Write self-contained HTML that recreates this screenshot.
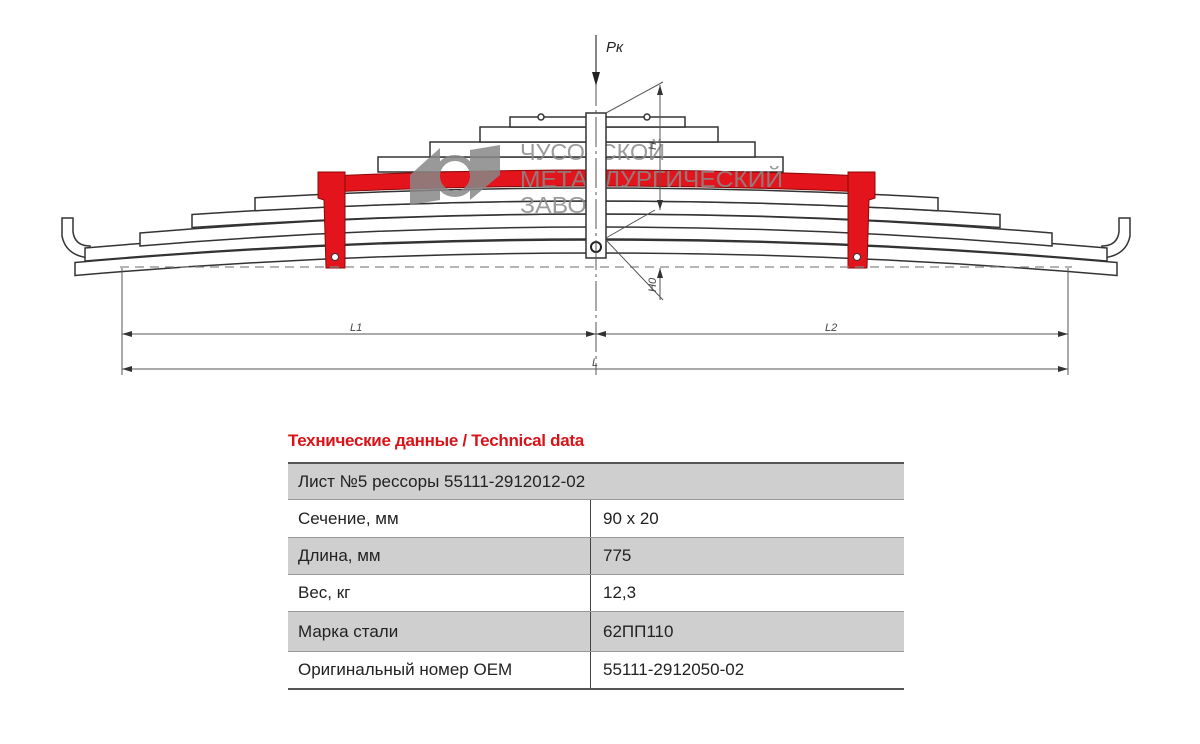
<!DOCTYPE html>
<html><head><meta charset="utf-8"><style>
body{margin:0;background:#fff;width:1200px;height:744px;overflow:hidden;font-family:"Liberation Sans",sans-serif;}
.t{position:absolute;}
</style></head><body>
<svg width="1200" height="744" style="position:absolute;left:0;top:0" xmlns="http://www.w3.org/2000/svg">
<g fill="#fff" stroke="#333" stroke-width="1.5">
<path d="M62,218 L73,218 L73,232 Q75,246 90,246 L90,258 Q66,256 62,236 Z"/>
<path d="M1130,218 L1119,218 L1119,232 Q1117,246 1102,246 L1102,258 Q1126,256 1130,236 Z"/>
<path d="M75,262.5 Q596,217.5 1117,262.5 L1117,275.5 Q596,230.5 75,275.5 Z"/>
<path d="M85,248 Q596,204 1107,248 L1107,261 Q596,217 85,261 Z"/>
<path d="M140,233 Q596,195 1052,233 L1052,246 Q596,208 140,246 Z"/>
<path d="M192,214.5 Q596,187.5 1000,214.5 L1000,227.5 Q596,200.5 192,227.5 Z"/>
<path d="M255,197.7 Q596,178.3 938,197.7 L938,210.7 Q596,191.3 255,210.7 Z"/>
<rect x="378" y="157" width="405" height="15"/>
<rect x="430" y="142" width="325" height="15"/>
<rect x="480" y="127" width="238" height="15"/>
<rect x="510" y="117" width="175" height="10"/>
<circle cx="541" cy="117" r="3"/><circle cx="647" cy="117" r="3"/>
</g>
<path d="M330,175.9 Q596,164.1 862,175.9 L862,191.9 Q596,180.1 330,191.9 Z" fill="#e3141b" stroke="#8a0a0a" stroke-width="1"/>
<g fill="#e3141b" stroke="#8a0a0a" stroke-width="1">
<path d="M318,172 L345,172 L345,268 L326,268 L324,200 L318,198 Z"/>
<path d="M875,172 L848,172 L848,268 L867,268 L869,200 L875,198 Z"/>
</g>
<circle cx="335" cy="257" r="3.5" fill="#fff" stroke="#333"/>
<circle cx="857" cy="257" r="3.5" fill="#fff" stroke="#333"/>
<g fill="#888" opacity="0.85">
<polygon points="410,175 440,148 440,200 410,205"/>
<polygon points="470,150 500,145 500,175 470,200"/>
<circle cx="455" cy="176" r="18" fill="none" stroke="#888" stroke-width="6"/>
</g>
<g font-family="Liberation Sans,sans-serif" font-size="23" fill="#8a8a8a" opacity="0.85">
<text x="520" y="160" textLength="145" lengthAdjust="spacingAndGlyphs">ЧУСОВСКОЙ</text>
<text x="520" y="187" textLength="263" lengthAdjust="spacingAndGlyphs">МЕТАЛЛУРГИЧЕСКИЙ</text>
<text x="520" y="213" textLength="83" lengthAdjust="spacingAndGlyphs">ЗАВОД</text>
</g>
<rect x="586" y="113" width="20" height="145" fill="#fff" stroke="#333" stroke-width="1.5"/>
<circle cx="596" cy="247" r="5" fill="#fff" stroke="#222" stroke-width="2"/>
<line x1="596" y1="35" x2="596" y2="375" stroke="#555" stroke-width="1" stroke-dasharray="30,4,3,4"/>
<line x1="596" y1="35" x2="596" y2="80" stroke="#333" stroke-width="1.2"/>
<polygon points="592,72 600,72 596,86" fill="#222"/>
<text x="606" y="52" font-family="Liberation Sans,sans-serif" font-style="italic" font-size="15" fill="#222">Pк</text>
<line x1="120" y1="267" x2="1072" y2="267" stroke="#888" stroke-width="1.3" stroke-dasharray="9,6"/>
<g stroke="#555" stroke-width="1" fill="none">
<line x1="606" y1="113" x2="663" y2="82"/>
<line x1="606" y1="238" x2="655" y2="210"/>
<line x1="660" y1="85" x2="660" y2="210"/>
<line x1="606" y1="240" x2="663" y2="300"/>
<line x1="660" y1="268" x2="660" y2="300"/>
<line x1="122" y1="268" x2="122" y2="375"/>
<line x1="1068" y1="268" x2="1068" y2="375"/>
<line x1="122" y1="334" x2="1068" y2="334"/>
<line x1="122" y1="369" x2="1068" y2="369"/>
</g>
<g fill="#333">
<polygon points="657,95 663,95 660,85"/><polygon points="657,200 663,200 660,210"/>
<polygon points="657,278 663,278 660,268"/>
<polygon points="122,334 132,331 132,337"/><polygon points="596,334 586,331 586,337"/>
<polygon points="596,334 606,331 606,337"/><polygon points="1068,334 1058,331 1058,337"/>
<polygon points="122,369 132,366 132,372"/><polygon points="1068,369 1058,366 1058,372"/>
</g>
<g font-family="Liberation Sans,sans-serif" font-style="italic" font-size="11" fill="#444">
<text x="350" y="331">L1</text><text x="825" y="331">L2</text><text x="592" y="366">L</text>
<text x="656" y="150" transform="rotate(-90 656 150)">H</text>
<text x="656" y="292" transform="rotate(-90 656 292)">H0</text>
</g>
</svg>
<div class="t" style="left:288px;top:431px;font-size:17px;font-weight:bold;color:#d8141a;letter-spacing:-0.3px">Технические данные / Technical data</div>
<div class="t" style="left:288px;top:462px;width:616px;font-size:17px;color:#222">
<div style="height:37px;background:#cfcfcf;border-top:2px solid #555;box-sizing:border-box;padding:8px 0 0 10px">Лист №5 рессоры 55111-2912012-02</div>
<div style="display:flex;height:37px;border-top:1px solid #999"><div style="width:292px;padding:9px 0 0 10px;border-right:1px solid #444">Сечение, мм</div><div style="padding:9px 0 0 12px">90 x 20</div></div>
<div style="display:flex;height:36px;background:#cfcfcf;border-top:1px solid #999"><div style="width:292px;padding:8px 0 0 10px;border-right:1px solid #444">Длина, мм</div><div style="padding:8px 0 0 12px">775</div></div>
<div style="display:flex;height:36px;border-top:1px solid #999"><div style="width:292px;padding:8px 0 0 10px;border-right:1px solid #444">Вес, кг</div><div style="padding:8px 0 0 12px">12,3</div></div>
<div style="display:flex;height:39px;background:#cfcfcf;border-top:1px solid #999"><div style="width:292px;padding:10px 0 0 10px;border-right:1px solid #444">Марка стали</div><div style="padding:10px 0 0 12px">62ПП110</div></div>
<div style="display:flex;height:36px;border-top:1px solid #999;border-bottom:2px solid #555"><div style="width:292px;padding:8px 0 0 10px;border-right:1px solid #444">Оригинальный номер OEM</div><div style="padding:8px 0 0 12px">55111-2912050-02</div></div>
</div>
</body></html>
